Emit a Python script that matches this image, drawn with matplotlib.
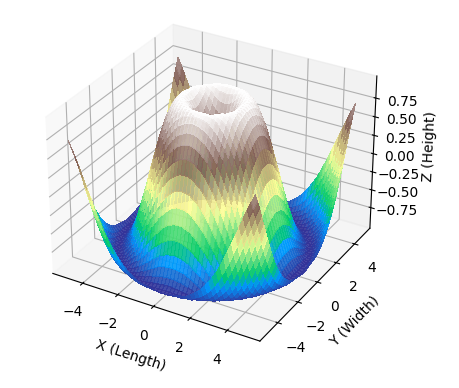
import numpy as np
import matplotlib
matplotlib.use('Agg')
import matplotlib.pyplot as plt

# heights read for the quarter of the surface, row i starts at column i
# (grid step 0.2, surface mirrors around x=0 and y=0)
quarter_rows = [
    [0,.20,.39,.56,.72,.84,.93,.99,1.0,.97,.91,.81,.68,.52,.33,.14,-.06,-.26,-.44,-.61,-.76,-.87,-.95,-.99,-1.0,-.96],
    [.28,.43,.59,.73,.85,.94,.99,1.0,.97,.90,.80,.67,.51,.33,.13,-.06,-.26,-.45,-.62,-.76,-.87,-.95,-.99,-1.0,-.96],
    [.54,.66,.78,.88,.95,.99,.99,.96,.89,.78,.65,.49,.31,.12,-.08,-.28,-.46,-.63,-.77,-.88,-.96,-.99,-.99,-.95],
    [.75,.84,.92,.97,.99,.99,.94,.86,.75,.62,.45,.27,.08,-.11,-.30,-.49,-.65,-.78,-.89,-.96,-.99,-.99,-.94],
    [.90,.95,.99,1.0,.98,.92,.83,.72,.57,.41,.23,.04,-.16,-.34,-.52,-.67,-.80,-.90,-.97,-1.0,-.98,-.93],
    [.99,1.0,.98,.95,.88,.78,.66,.52,.35,.17,-.02,-.21,-.39,-.56,-.71,-.83,-.92,-.98,-1.0,-.98,-.92],
    [.99,.96,.91,.83,.72,.59,.44,.27,.10,-.09,-.27,-.45,-.61,-.75,-.86,-.94,-.99,-1.0,-.97,-.91],
    [.92,.85,.75,.64,.51,.36,.19,.01,-.17,-.34,-.51,-.66,-.79,-.89,-.96,-.99,-1.0,-.96,-.89],
    [.77,.67,.55,.41,.25,.09,-.08,-.26,-.42,-.58,-.71,-.83,-.92,-.97,-1.0,-.98,-.94,-.86],
    [.56,.43,.29,.14,-.02,-.19,-.35,-.50,-.65,-.77,-.87,-.95,-.99,-1.0,-.97,-.91,-.82],
    [.31,.17,.02,-.14,-.29,-.45,-.59,-.72,-.83,-.91,-.97,-.99,-.99,-.95,-.88,-.78],
    [.03,-.11,-.26,-.41,-.54,-.67,-.79,-.88,-.95,-.99,-1.0,-.97,-.92,-.84,-.73],
    [-.25,-.39,-.52,-.64,-.76,-.85,-.92,-.97,-1.0,-.99,-.95,-.89,-.79,-.67],
    [-.51,-.63,-.74,-.83,-.90,-.96,-.99,-1.0,-.97,-.92,-.84,-.73,-.60],
    [-.73,-.82,-.89,-.95,-.99,-1.0,-.98,-.94,-.87,-.78,-.66,-.52],
    [-.89,-.95,-.98,-1.0,-.99,-.96,-.90,-.81,-.71,-.58,-.44],
    [-.98,-1.0,-.99,-.97,-.91,-.84,-.75,-.63,-.49,-.34],
    [-1.0,-.97,-.92,-.86,-.77,-.66,-.53,-.39,-.23],
    [-.92,-.86,-.78,-.68,-.56,-.43,-.28,-.12],
    [-.79,-.69,-.58,-.45,-.31,-.16,0],
    [-.58,-.46,-.33,-.19,-.04,.12],
    [-.34,-.20,-.06,.10,.24],
    [-.06,.08,.23,.37],
    [.22,.36,.49],
    [.48,.60],
    [.71],
]
x_values = np.linspace(-5, 5, 51)
y_values = np.linspace(-5, 5, 51)
x_ticks = [-4, -2, 0, 2, 4]
y_ticks = [-4, -2, 0, 2, 4]
z_ticks = [-0.75, -0.50, -0.25, 0.00, 0.25, 0.50, 0.75]

heights = np.zeros((26, 26))
for i, row in enumerate(quarter_rows):
    heights[i, i:] = row
    heights[i:, i] = row

ix = np.abs(np.round(x_values * 5)).astype(int)
iy = np.abs(np.round(y_values * 5)).astype(int)
Z = heights[np.ix_(iy, ix)]
X, Y = np.meshgrid(x_values, y_values)

fig = plt.figure(figsize=(4.6, 3.88), dpi=100)
ax = fig.add_axes([0.02, 0.061, 0.87, 0.95], projection='3d')
ax.plot_surface(X, Y, Z, rstride=1, cstride=1, cmap='terrain', linewidth=0,
                antialiased=False, alpha=0.9)
ax.set_xticks(x_ticks)
ax.set_yticks(y_ticks)
ax.set_zticks(z_ticks)
ax.set_xlabel('X (Length)')
ax.set_ylabel('Y (Width)')
ax.set_zlabel('Z (Height)')

fig.savefig('out.png', dpi=100)
